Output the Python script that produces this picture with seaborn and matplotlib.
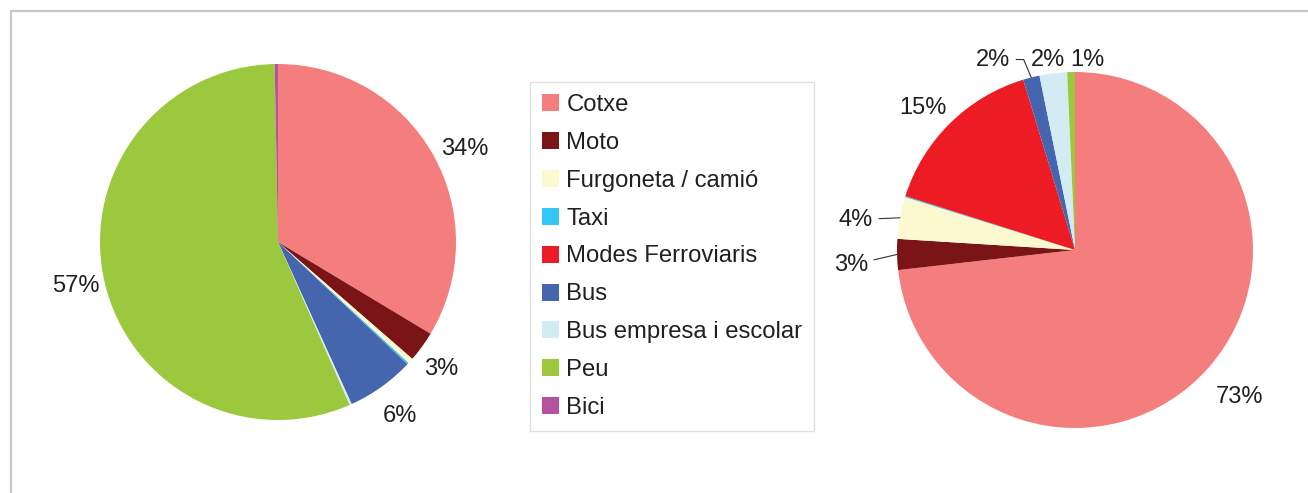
import numpy as np
import matplotlib.pyplot as plt
import seaborn as sns
from matplotlib.patches import Patch
from matplotlib.lines import Line2D

# transport modes and their colours
modes = ['Cotxe', 'Moto', 'Furgoneta / camió', 'Taxi', 'Modes Ferroviaris',
         'Bus', 'Bus empresa i escolar', 'Peu', 'Bici']
mode_colors = ['#F47E7E', '#7B1416', '#FCF8CF', '#33C5F3', '#ED1C24',
               '#4565AF', '#D3ECF3', '#9BC83C', '#B5519E']

# left pie (share %)
left_values = [33.8, 2.8, 0.5, 0.15, 0.0, 6.2, 0.2, 56.6, 0.3]
left_labels = ['34%', '3%', '', '', '', '6%', '', '57%', '']

# right pie (share %)
right_values = [73.2, 2.8, 3.8, 0.1, 15.4, 1.5, 2.5, 0.7, 0.0]
right_labels = ['73%', '3%', '4%', '', '15%', '2%', '2%', '1%', '']

sns.set_theme(style='white')
plt.rcParams['font.family'] = ['Liberation Sans', 'DejaVu Sans']
txt_color = '#231F20'
palette = sns.color_palette(mode_colors)
FS = 17

W, H = 1308, 493
fig = plt.figure(figsize=(W / 100, H / 100), dpi=100)

R = 178      # pie radius in px
LIM = 1.45   # axis half range in pie units


def pie_axes(cx, cy):
    size = 2 * LIM * R
    return fig.add_axes([(cx - size / 2) / W, (H - cy - size / 2) / H, size / W, size / H])


def draw_pie(ax, values, labels, text_pos, leaders=None):
    leaders = leaders or {}
    wedges, _ = ax.pie(values, colors=palette, startangle=90, counterclock=False,
                       radius=1, wedgeprops=dict(linewidth=0))
    for i, (w, lab) in enumerate(zip(wedges, labels)):
        if not lab:
            continue
        mid = np.deg2rad((w.theta1 + w.theta2) / 2)
        edge = (np.cos(mid), np.sin(mid))
        if i in leaders:
            # text anchored at its right end, with a leader line to the wedge
            ax.annotate(lab, xy=edge, xytext=text_pos[i], ha='right', va='center',
                        fontsize=FS, color=txt_color,
                        arrowprops=dict(arrowstyle='-', color='#333333', lw=0.8,
                                        shrinkA=2, shrinkB=0,
                                        connectionstyle=leaders[i]))
        else:
            pos = text_pos[i]
            ax.text(pos[0], pos[1], lab, ha='center', va='center',
                    fontsize=FS, color=txt_color)
    ax.set_xlim(-LIM, LIM)
    ax.set_ylim(-LIM, LIM)
    ax.set_aspect('equal')
    ax.axis('off')


ax1 = pie_axes(278, 242)
draw_pie(ax1, left_values, left_labels,
         text_pos={0: (1.051, 0.52), 1: (0.916, -0.716), 5: (0.685, -0.978),
                   7: (-1.138, -0.25)})

ax2 = pie_axes(1075, 250)
draw_pie(ax2, right_values, right_labels,
         text_pos={0: (0.924, -0.826), 1: (-1.163, -0.085), 2: (-1.135, 0.17),
                   4: (-0.857, 0.798), 5: (-0.365, 1.07), 6: (-0.149, 1.07),
                   7: (0.070, 1.07)},
         leaders={1: 'arc3', 2: 'arc3', 5: 'angle,angleA=0,angleB=113,rad=0'})

handles = [Patch(facecolor=c, edgecolor='none') for c in palette]
leg = fig.legend(handles, modes, loc='upper left', bbox_to_anchor=(530 / W, 1 - 82 / H),
                 borderaxespad=0, frameon=True, fancybox=False, fontsize=17.2,
                 handlelength=0.72, handleheight=0.72, handletextpad=0.3,
                 labelspacing=0.665, borderpad=0.5, labelcolor=txt_color)
leg.get_frame().set_edgecolor('#D9D9D9')
leg.get_frame().set_linewidth(1.0)

# outer frame (left and top edges)
fig.add_artist(Line2D([11 / W, 11 / W], [0, 1 - 11 / H], transform=fig.transFigure,
                      color='#C8C8C8', lw=1.6))
fig.add_artist(Line2D([11 / W, 1], [1 - 11 / H, 1 - 11 / H], transform=fig.transFigure,
                      color='#C8C8C8', lw=1.6))

fig.savefig('out.png', dpi=100)
